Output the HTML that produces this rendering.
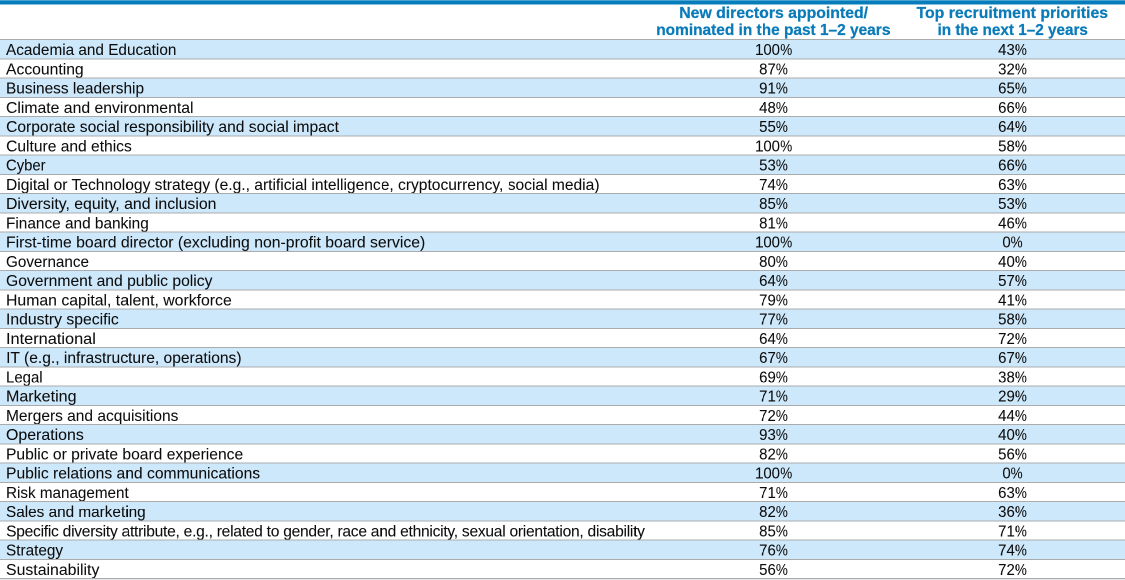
<!DOCTYPE html>
<html><head><meta charset="utf-8"><title>Board skills table</title>
<style>
html,body{margin:0;padding:0;background:#fff;}
body{width:1125px;height:580px;position:relative;overflow:hidden;font-family:"Liberation Sans",sans-serif;}
#w{position:absolute;left:0;top:0;width:2250px;height:1160px;transform:scale(0.5);transform-origin:0 0;will-change:transform;background:#fff;overflow:hidden;}
.bar{position:absolute;left:0;top:0;width:2250px;height:9px;background:#067cba;border-top:2px solid #4aa3d0;box-sizing:border-box;}
.h{position:absolute;color:#0a7bb9;font-weight:bold;font-size:31.2px;line-height:34px;text-align:center;white-space:nowrap;width:800px;-webkit-text-stroke:0.5px #0a7bb9;}
.h span{display:inline-block;transform-origin:center;}
.r{position:absolute;left:0;width:2250px;border-top:2px solid #a9abad;box-sizing:border-box;font-size:31.2px;color:#0c0c0c;-webkit-text-stroke:0.12px #0c0c0c;}
.r.b{background:#cde8fb;}
.r span{position:absolute;top:0.8px;white-space:nowrap;display:inline-block;}
.l{left:12.2px;transform-origin:left center;}
.c{text-align:center;transform-origin:center center;width:300px;transform:scaleX(0.96);}
.c1{left:1397px;}
.c2{left:1875px;}
.c b{font-weight:normal;display:inline-block;transform:scaleX(0.9);transform-origin:left center;margin-right:-2.8px;}
.end{position:absolute;left:0;top:1156px;width:2250px;height:2px;background:#a9abad;border-bottom:2px solid #e6e7e9;}
</style></head><body><div id="w">
<div class="bar"></div>

<div class="h" style="left:1147.0px;top:9.4px;"><span id="h1a" style="transform:scaleX(1.0135)">New directors appointed/</span><br><span id="h1b" style="transform:scaleX(0.9894)">nominated in the past 1–2 years</span></div>
<div class="h" style="left:1625.0px;top:9.4px;"><span id="h2a" style="transform:scaleX(1.0160)">Top recruitment priorities</span><br><span id="h2b" style="transform:scaleX(0.9804)">in the next 1–2 years</span></div>
<div class="r b" style="top:78.00px;height:39.00px;line-height:38.51px;"><span class="l" id="l0" style="transform:scaleX(0.9826)">Academia and Education</span><span class="c c1" id="a0">100<b>%</b></span><span class="c c2" id="b0">43<b>%</b></span></div>
<div class="r" style="top:117.00px;height:38.00px;line-height:38.51px;"><span class="l" id="l1" style="transform:scaleX(1.0065)">Accounting</span><span class="c c1" id="a1">87<b>%</b></span><span class="c c2" id="b1">32<b>%</b></span></div>
<div class="r b" style="top:155.00px;height:39.00px;line-height:38.51px;"><span class="l" id="l2" style="transform:scaleX(0.9893)">Business leadership</span><span class="c c1" id="a2">91<b>%</b></span><span class="c c2" id="b2">65<b>%</b></span></div>
<div class="r" style="top:194.00px;height:38.00px;line-height:38.51px;"><span class="l" id="l3" style="transform:scaleX(1.0108)">Climate and environmental</span><span class="c c1" id="a3">48<b>%</b></span><span class="c c2" id="b3">66<b>%</b></span></div>
<div class="r b" style="top:232.00px;height:39.00px;line-height:38.51px;"><span class="l" id="l4" style="transform:scaleX(1.0000)">Corporate social responsibility and social impact</span><span class="c c1" id="a4">55<b>%</b></span><span class="c c2" id="b4">64<b>%</b></span></div>
<div class="r" style="top:271.00px;height:38.00px;line-height:38.51px;"><span class="l" id="l5" style="transform:scaleX(1.0000)">Culture and ethics</span><span class="c c1" id="a5">100<b>%</b></span><span class="c c2" id="b5">58<b>%</b></span></div>
<div class="r b" style="top:309.00px;height:39.00px;line-height:38.51px;"><span class="l" id="l6" style="transform:scaleX(0.9520)">Cyber</span><span class="c c1" id="a6">53<b>%</b></span><span class="c c2" id="b6">66<b>%</b></span></div>
<div class="r" style="top:348.00px;height:38.00px;line-height:38.51px;"><span class="l" id="l7" style="transform:scaleX(0.9992)">Digital or Technology strategy (e.g., artificial intelligence, cryptocurrency, social media)</span><span class="c c1" id="a7">74<b>%</b></span><span class="c c2" id="b7">63<b>%</b></span></div>
<div class="r b" style="top:386.00px;height:39.00px;line-height:38.51px;"><span class="l" id="l8" style="transform:scaleX(1.0145)">Diversity, equity, and inclusion</span><span class="c c1" id="a8">85<b>%</b></span><span class="c c2" id="b8">53<b>%</b></span></div>
<div class="r" style="top:425.00px;height:38.00px;line-height:38.51px;"><span class="l" id="l9" style="transform:scaleX(0.9861)">Finance and banking</span><span class="c c1" id="a9">81<b>%</b></span><span class="c c2" id="b9">46<b>%</b></span></div>
<div class="r b" style="top:463.00px;height:39.00px;line-height:38.51px;"><span class="l" id="l10" style="transform:scaleX(1.0121)">First-time board director (excluding non-profit board service)</span><span class="c c1" id="a10">100<b>%</b></span><span class="c c2" id="b10">0<b>%</b></span></div>
<div class="r" style="top:502.00px;height:38.00px;line-height:38.51px;"><span class="l" id="l11" style="transform:scaleX(0.9765)">Governance</span><span class="c c1" id="a11">80<b>%</b></span><span class="c c2" id="b11">40<b>%</b></span></div>
<div class="r b" style="top:540.00px;height:39.00px;line-height:38.51px;"><span class="l" id="l12" style="transform:scaleX(1.0049)">Government and public policy</span><span class="c c1" id="a12">64<b>%</b></span><span class="c c2" id="b12">57<b>%</b></span></div>
<div class="r" style="top:579.00px;height:38.00px;line-height:38.51px;"><span class="l" id="l13" style="transform:scaleX(1.0135)">Human capital, talent, workforce</span><span class="c c1" id="a13">79<b>%</b></span><span class="c c2" id="b13">41<b>%</b></span></div>
<div class="r b" style="top:617.00px;height:39.00px;line-height:38.51px;"><span class="l" id="l14" style="transform:scaleX(1.0090)">Industry specific</span><span class="c c1" id="a14">77<b>%</b></span><span class="c c2" id="b14">58<b>%</b></span></div>
<div class="r" style="top:656.00px;height:38.00px;line-height:38.51px;"><span class="l" id="l15" style="transform:scaleX(1.0473)">International</span><span class="c c1" id="a15">64<b>%</b></span><span class="c c2" id="b15">72<b>%</b></span></div>
<div class="r b" style="top:694.00px;height:39.00px;line-height:38.51px;"><span class="l" id="l16" style="transform:scaleX(1.0000)">IT (e.g., infrastructure, operations)</span><span class="c c1" id="a16">67<b>%</b></span><span class="c c2" id="b16">67<b>%</b></span></div>
<div class="r" style="top:733.00px;height:38.00px;line-height:38.51px;"><span class="l" id="l17" style="transform:scaleX(0.9602)">Legal</span><span class="c c1" id="a17">69<b>%</b></span><span class="c c2" id="b17">38<b>%</b></span></div>
<div class="r b" style="top:771.00px;height:39.00px;line-height:38.51px;"><span class="l" id="l18" style="transform:scaleX(1.0297)">Marketing</span><span class="c c1" id="a18">71<b>%</b></span><span class="c c2" id="b18">29<b>%</b></span></div>
<div class="r" style="top:810.00px;height:38.00px;line-height:38.51px;"><span class="l" id="l19" style="transform:scaleX(0.9943)">Mergers and acquisitions</span><span class="c c1" id="a19">72<b>%</b></span><span class="c c2" id="b19">44<b>%</b></span></div>
<div class="r b" style="top:848.00px;height:39.00px;line-height:38.51px;"><span class="l" id="l20" style="transform:scaleX(1.0198)">Operations</span><span class="c c1" id="a20">93<b>%</b></span><span class="c c2" id="b20">40<b>%</b></span></div>
<div class="r" style="top:887.00px;height:38.00px;line-height:38.51px;"><span class="l" id="l21" style="transform:scaleX(1.0021)">Public or private board experience</span><span class="c c1" id="a21">82<b>%</b></span><span class="c c2" id="b21">56<b>%</b></span></div>
<div class="r b" style="top:925.00px;height:39.00px;line-height:38.51px;"><span class="l" id="l22" style="transform:scaleX(1.0040)">Public relations and communications</span><span class="c c1" id="a22">100<b>%</b></span><span class="c c2" id="b22">0<b>%</b></span></div>
<div class="r" style="top:964.00px;height:38.00px;line-height:38.51px;"><span class="l" id="l23" style="transform:scaleX(0.9762)">Risk management</span><span class="c c1" id="a23">71<b>%</b></span><span class="c c2" id="b23">63<b>%</b></span></div>
<div class="r b" style="top:1002.00px;height:39.00px;line-height:38.51px;"><span class="l" id="l24" style="transform:scaleX(0.9824)">Sales and marketing</span><span class="c c1" id="a24">82<b>%</b></span><span class="c c2" id="b24">36<b>%</b></span></div>
<div class="r" style="top:1041.00px;height:38.00px;line-height:38.51px;"><span class="l" id="l25" style="transform:scaleX(1.0000);letter-spacing:-0.527px">Specific diversity attribute, e.g., related to gender, race and ethnicity, sexual orientation, disability</span><span class="c c1" id="a25">85<b>%</b></span><span class="c c2" id="b25">71<b>%</b></span></div>
<div class="r b" style="top:1079.00px;height:39.00px;line-height:38.51px;"><span class="l" id="l26" style="transform:scaleX(0.9831)">Strategy</span><span class="c c1" id="a26">76<b>%</b></span><span class="c c2" id="b26">74<b>%</b></span></div>
<div class="r" style="top:1118.00px;height:38.00px;line-height:38.51px;"><span class="l" id="l27" style="transform:scaleX(1.0164)">Sustainability</span><span class="c c1" id="a27">56<b>%</b></span><span class="c c2" id="b27">72<b>%</b></span></div>
<div class="end"></div>
</div></body></html>
